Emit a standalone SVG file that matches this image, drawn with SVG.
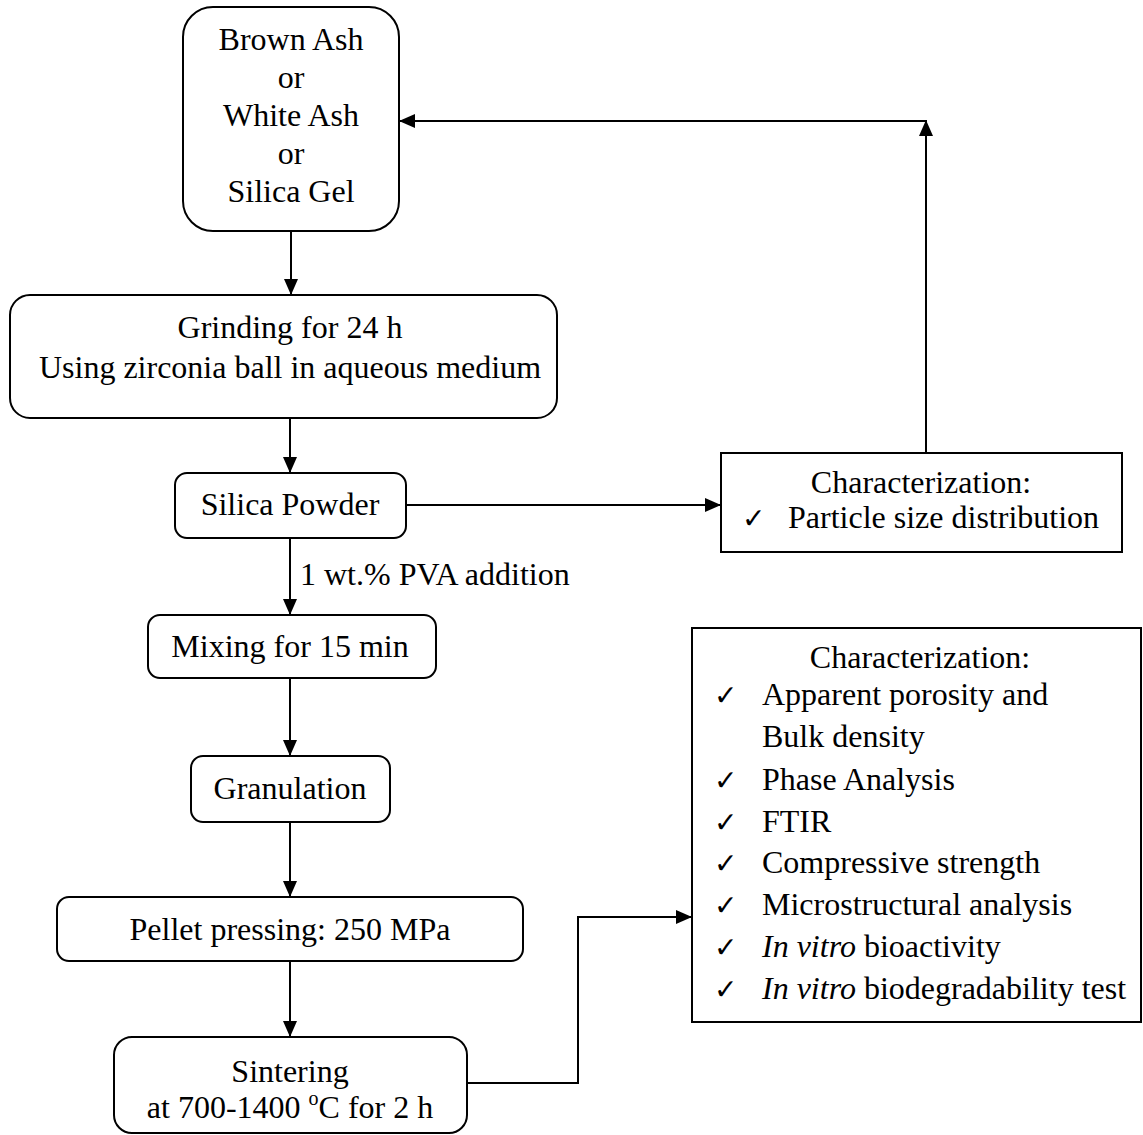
<svg xmlns="http://www.w3.org/2000/svg" width="1143" height="1135" viewBox="0 0 1143 1135">
<style>
.box{fill:#fff;stroke:#000;stroke-width:2}
.t{font-family:"Liberation Serif","Times New Roman",serif;font-size:32px;fill:#000}
.c{text-anchor:middle}
.ck{font-family:"DejaVu Sans",sans-serif;font-size:28px;fill:#000}
.ln{fill:none;stroke:#000;stroke-width:2}
</style>
<defs>
<marker id="ah" markerUnits="userSpaceOnUse" markerWidth="16" markerHeight="14" refX="16" refY="7" orient="auto">
<path d="M0,0 L16,7 L0,14 Z" fill="#000"/>
</marker>
</defs>
<rect width="1143" height="1135" fill="#fff"/>
<g id="connectors">
<path class="ln" d="M291,231 V295" marker-end="url(#ah)"/>
<path class="ln" d="M290,418 V473" marker-end="url(#ah)"/>
<path class="ln" d="M406,505 H721" marker-end="url(#ah)"/>
<path class="ln" d="M290,538 V615" marker-end="url(#ah)"/>
<path class="ln" d="M290,678 V756" marker-end="url(#ah)"/>
<path class="ln" d="M290,822 V897" marker-end="url(#ah)"/>
<path class="ln" d="M290,961 V1037" marker-end="url(#ah)"/>
<path class="ln" d="M467,1083 H578 V917 H692" marker-end="url(#ah)"/>
<path class="ln" d="M926,453 V120" marker-end="url(#ah)"/>
<path class="ln" d="M926,121 H399" marker-end="url(#ah)"/>
<text class="t" x="300" y="585">1 wt.% PVA addition</text>
</g>
<g id="raw">
<rect class="box" x="183" y="7" width="216" height="224" rx="30"/>
<text class="t c" x="291" y="50">Brown Ash</text>
<text class="t c" x="291" y="88">or</text>
<text class="t c" x="291" y="126">White Ash</text>
<text class="t c" x="291" y="164">or</text>
<text class="t c" x="291" y="202">Silica Gel</text>
</g>
<g id="grinding">
<rect class="box" x="10" y="295" width="547" height="123" rx="20"/>
<text class="t c" x="290" y="338">Grinding for 24 h</text>
<text class="t c" x="290" y="378">Using zirconia ball in aqueous medium</text>
</g>
<g id="powder">
<rect class="box" x="175" y="473" width="231" height="65" rx="12"/>
<text class="t c" x="290" y="515">Silica Powder</text>
</g>
<g id="char1">
<rect class="box" x="721" y="453" width="401" height="99"/>
<text class="t c" x="921" y="493">Characterization:</text>
<text class="ck" x="742" y="528">✓</text>
<text class="t" x="788" y="528">Particle size distribution</text>
</g>
<g id="mixing">
<rect class="box" x="148" y="615" width="288" height="63" rx="12"/>
<text class="t c" x="290" y="657">Mixing for 15 min</text>
</g>
<g id="granulation">
<rect class="box" x="191" y="756" width="199" height="66" rx="12"/>
<text class="t c" x="290" y="799">Granulation</text>
</g>
<g id="pellet">
<rect class="box" x="57" y="897" width="466" height="64" rx="12"/>
<text class="t c" x="290" y="940">Pellet pressing: 250 MPa</text>
</g>
<g id="sintering">
<rect class="box" x="114" y="1037" width="353" height="96" rx="18"/>
<text class="t c" x="290" y="1082">Sintering</text>
<text class="t c" x="290" y="1118">at 700-1400 <tspan dy="-13" font-size="20">o</tspan><tspan dy="13">C for 2 h</tspan></text>
</g>
<g id="char2">
<rect class="box" x="692" y="628" width="449" height="394"/>
<text class="t c" x="920" y="668">Characterization:</text>
<text class="ck" x="714" y="705">✓</text>
<text class="t" x="762" y="705">Apparent porosity and</text>
<text class="t" x="762" y="747">Bulk density</text>
<text class="ck" x="714" y="790">✓</text>
<text class="t" x="762" y="790">Phase Analysis</text>
<text class="ck" x="714" y="832">✓</text>
<text class="t" x="762" y="832">FTIR</text>
<text class="ck" x="714" y="873">✓</text>
<text class="t" x="762" y="873">Compressive strength</text>
<text class="ck" x="714" y="915">✓</text>
<text class="t" x="762" y="915">Microstructural analysis</text>
<text class="ck" x="714" y="957">✓</text>
<text class="t" x="762" y="957"><tspan font-style="italic">In vitro</tspan> bioactivity</text>
<text class="ck" x="714" y="999">✓</text>
<text class="t" x="762" y="999"><tspan font-style="italic">In vitro</tspan> biodegradability test</text>
</g>
</svg>
